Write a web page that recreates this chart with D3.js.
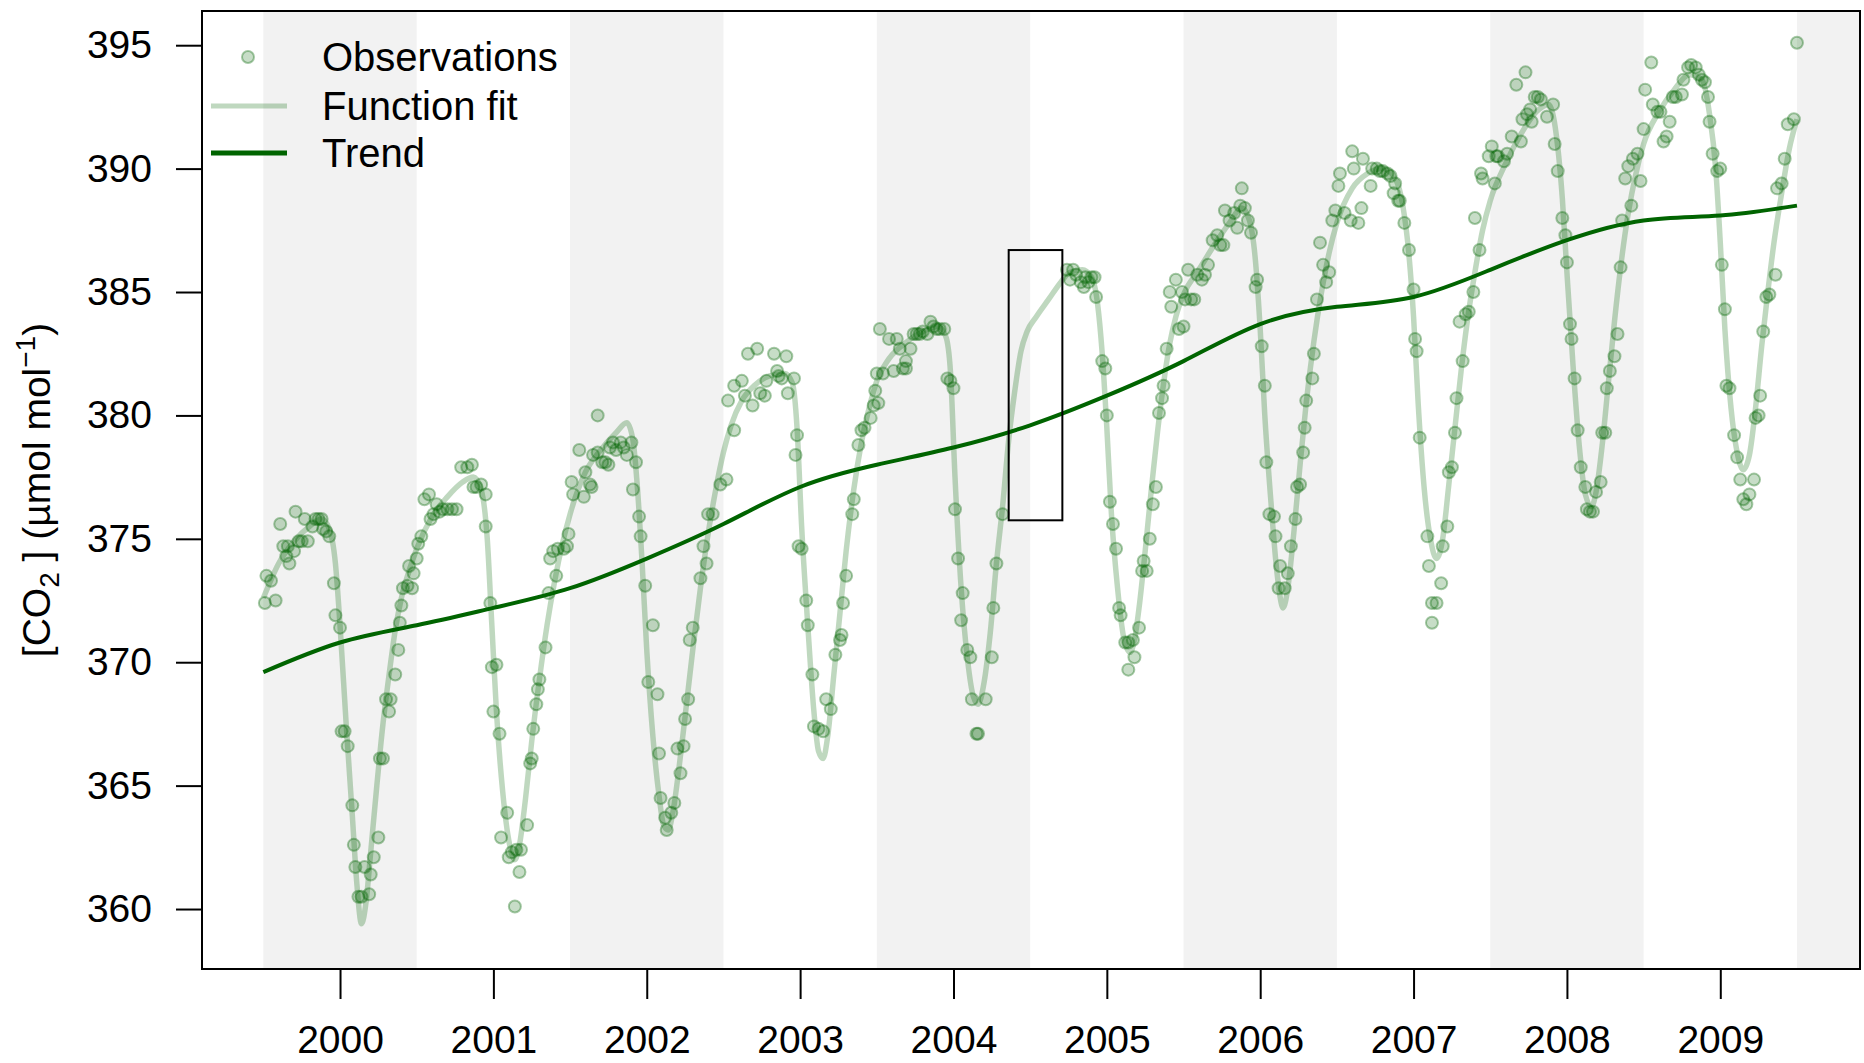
<!DOCTYPE html>
<html>
<head>
<meta charset="utf-8">
<script src="https://cdn.jsdelivr.net/npm/d3@7"></script>
<style>
  body { margin: 0; background: #fff; }
  text { font-family: 'Liberation Sans', Arial, Helvetica, sans-serif; fill: #000; }
</style>
</head>
<body>
<script>
// observations, one small list per season (decimal year, ppm)
const obs2000 = [[1999.51,372.4],[1999.52,373.5],[1999.55,373.3],[1999.58,372.5],[1999.61,375.6],[1999.63,374.7],[1999.65,374.3],[1999.66,374.7],[1999.67,374.0],[1999.70,374.5],[1999.71,376.1],[1999.73,374.9],[1999.75,374.9],[1999.77,375.8],[1999.79,374.9],[1999.82,375.5],[1999.84,375.8],[1999.86,375.8],[1999.88,375.8],[1999.89,375.4],[1999.91,375.3],[1999.93,375.1],[1999.96,373.2],[1999.97,371.9],[2000.00,371.4],[2000.01,367.2],[2000.03,367.2],[2000.05,366.6],[2000.08,364.2],[2000.09,362.6],[2000.10,361.7],[2000.12,360.5],[2000.14,360.5],[2000.16,361.7],[2000.19,360.6],[2000.20,361.4],[2000.22,362.1],[2000.25,362.9],[2000.26,366.1],[2000.28,366.1],[2000.30,368.5],[2000.32,368.0],[2000.33,368.5],[2000.36,369.5],[2000.38,370.5],[2000.39,371.6],[2000.40,372.3],[2000.41,373.0],[2000.44,373.1],[2000.45,373.9],[2000.47,373.0],[2000.48,373.6]]
const obs2001 = [[2000.50,374.2],[2000.51,374.8],[2000.53,375.1],[2000.55,376.6],[2000.58,376.8],[2000.59,375.8],[2000.61,376.0],[2000.63,376.4],[2000.65,376.1],[2000.67,376.2],[2000.70,376.2],[2000.73,376.2],[2000.76,376.2],[2000.79,377.9],[2000.83,377.9],[2000.86,378.0],[2000.87,377.1],[2000.89,377.1],[2000.92,377.2],[2000.95,376.8],[2000.95,375.5],[2000.98,372.4],[2000.99,369.8],[2001.00,368.0],[2001.02,369.9],[2001.04,367.1],[2001.05,362.9],[2001.09,363.9],[2001.10,362.1],[2001.12,362.3],[2001.14,360.1],[2001.15,362.4],[2001.17,361.5],[2001.18,362.4],[2001.22,363.4],[2001.24,365.9],[2001.25,366.1],[2001.26,367.3],[2001.28,368.3],[2001.29,368.9],[2001.30,369.3],[2001.34,370.6],[2001.36,372.8],[2001.37,374.2],[2001.39,374.5],[2001.41,373.5],[2001.42,374.6],[2001.46,374.6],[2001.48,374.7],[2001.49,375.2]]
const obs2002 = [[2001.51,377.3],[2001.52,376.8],[2001.56,378.6],[2001.59,376.7],[2001.60,377.7],[2001.63,377.2],[2001.64,377.1],[2001.65,378.4],[2001.68,380.0],[2001.68,378.5],[2001.71,378.1],[2001.73,378.1],[2001.75,378.0],[2001.76,378.7],[2001.78,378.9],[2001.80,378.6],[2001.83,378.9],[2001.85,378.7],[2001.87,378.4],[2001.90,378.9],[2001.91,377.0],[2001.93,378.1],[2001.95,375.9],[2001.96,375.1],[2001.99,373.1],[2002.01,369.2],[2002.04,371.5],[2002.07,368.7],[2002.08,366.3],[2002.09,364.5],[2002.12,363.7],[2002.13,363.2],[2002.16,363.9],[2002.18,364.3],[2002.20,366.5],[2002.22,365.5],[2002.24,366.6],[2002.25,367.7],[2002.27,368.5],[2002.28,370.9],[2002.30,371.4],[2002.35,373.4],[2002.37,374.7],[2002.39,374.0],[2002.40,376.0],[2002.43,376.0],[2002.48,377.2]]
const obs2003 = [[2002.52,377.4],[2002.53,380.6],[2002.57,379.4],[2002.57,381.2],[2002.62,381.4],[2002.64,380.8],[2002.66,382.5],[2002.69,380.4],[2002.72,382.7],[2002.74,380.9],[2002.77,380.8],[2002.78,381.4],[2002.83,382.5],[2002.85,381.8],[2002.86,381.6],[2002.88,381.5],[2002.91,382.4],[2002.92,380.9],[2002.96,381.5],[2002.97,378.4],[2002.98,379.2],[2002.99,374.7],[2003.01,374.6],[2003.04,372.5],[2003.05,371.5],[2003.08,369.5],[2003.09,367.4],[2003.12,367.3],[2003.15,367.2],[2003.17,368.5],[2003.20,368.1],[2003.23,370.3],[2003.26,370.9],[2003.27,371.1],[2003.28,372.4],[2003.30,373.5],[2003.34,376.0],[2003.35,376.6],[2003.38,378.8],[2003.40,379.4],[2003.42,379.5],[2003.46,379.9],[2003.48,380.4],[2003.49,381.0]]
const obs2004 = [[2003.50,381.7],[2003.51,380.5],[2003.52,383.5],[2003.54,381.7],[2003.58,383.1],[2003.61,381.8],[2003.63,383.1],[2003.65,382.7],[2003.67,381.9],[2003.69,381.9],[2003.69,382.2],[2003.72,382.7],[2003.74,383.3],[2003.76,383.3],[2003.78,383.3],[2003.80,383.4],[2003.83,383.3],[2003.85,383.8],[2003.87,383.6],[2003.89,383.5],[2003.91,383.5],[2003.94,383.5],[2003.96,381.5],[2003.98,381.4],[2004.00,381.1],[2004.01,376.2],[2004.03,374.2],[2004.05,371.7],[2004.06,372.8],[2004.09,370.5],[2004.11,370.2],[2004.12,368.5],[2004.15,367.1],[2004.16,367.1],[2004.21,368.5],[2004.25,370.2],[2004.26,372.2],[2004.28,374.0],[2004.32,376.0]]
const obs2005 = [[2004.74,385.9],[2004.76,385.5],[2004.78,385.9],[2004.80,385.7],[2004.83,385.4],[2004.85,385.2],[2004.86,385.6],[2004.88,385.4],[2004.90,385.6],[2004.92,385.6],[2004.93,384.8],[2004.97,382.2],[2004.99,381.9],[2005.00,380.0],[2005.02,376.5],[2005.04,375.6],[2005.06,374.6],[2005.08,372.2],[2005.09,371.9],[2005.12,370.8],[2005.14,370.8],[2005.14,369.7],[2005.17,370.9],[2005.18,370.2],[2005.21,371.4],[2005.23,373.7],[2005.24,374.1],[2005.26,373.7],[2005.28,375.0],[2005.30,376.4],[2005.32,377.1],[2005.34,380.1],[2005.36,380.7],[2005.37,381.2],[2005.39,382.7],[2005.41,385.0],[2005.42,384.4],[2005.45,385.5],[2005.47,383.5],[2005.49,385.0]]
const obs2006 = [[2005.50,383.6],[2005.51,384.7],[2005.53,385.9],[2005.55,384.7],[2005.57,384.7],[2005.59,385.7],[2005.62,385.5],[2005.64,385.7],[2005.66,386.1],[2005.69,387.1],[2005.72,387.3],[2005.74,386.9],[2005.76,386.9],[2005.77,388.3],[2005.80,387.9],[2005.83,388.2],[2005.85,387.6],[2005.87,388.5],[2005.88,389.2],[2005.90,388.4],[2005.92,387.9],[2005.94,387.4],[2005.97,385.2],[2005.98,385.5],[2006.01,382.8],[2006.03,381.2],[2006.04,378.1],[2006.06,376.0],[2006.09,375.9],[2006.10,375.1],[2006.12,373.0],[2006.13,373.9],[2006.16,373.0],[2006.18,373.6],[2006.20,374.7],[2006.23,375.8],[2006.24,377.1],[2006.26,377.2],[2006.28,378.5],[2006.29,379.5],[2006.30,380.6],[2006.34,381.5],[2006.35,382.5],[2006.37,384.7],[2006.39,387.0],[2006.41,386.1],[2006.43,385.4],[2006.45,385.8],[2006.47,387.9],[2006.49,388.3]]
const obs2007 = [[2006.51,389.3],[2006.52,389.8],[2006.55,388.2],[2006.59,387.9],[2006.60,390.7],[2006.61,390.0],[2006.64,387.8],[2006.66,388.4],[2006.67,390.4],[2006.72,389.3],[2006.73,390.0],[2006.76,390.0],[2006.78,389.9],[2006.80,389.9],[2006.83,389.8],[2006.85,389.7],[2006.87,389.0],[2006.88,389.4],[2006.90,388.7],[2006.91,388.7],[2006.94,387.8],[2006.97,386.7],[2007.00,385.1],[2007.01,383.1],[2007.02,382.6],[2007.04,379.1],[2007.09,375.1],[2007.10,373.9],[2007.12,372.4],[2007.12,371.6],[2007.15,372.4],[2007.18,373.2],[2007.19,374.7],[2007.22,375.5],[2007.23,377.7],[2007.25,377.9],[2007.27,379.3],[2007.28,380.7],[2007.30,383.8],[2007.32,382.2],[2007.34,384.1],[2007.36,384.2],[2007.39,385.0],[2007.40,388.0],[2007.43,386.7],[2007.44,389.8],[2007.45,389.6],[2007.49,390.5]]
const obs2008 = [[2007.51,390.9],[2007.53,389.4],[2007.54,390.5],[2007.55,390.5],[2007.59,390.3],[2007.61,390.6],[2007.64,391.3],[2007.67,393.4],[2007.70,391.1],[2007.71,392.0],[2007.73,393.9],[2007.74,392.2],[2007.76,392.4],[2007.77,391.9],[2007.79,392.9],[2007.81,392.9],[2007.83,392.8],[2007.87,392.1],[2007.91,392.6],[2007.92,391.0],[2007.94,389.9],[2007.97,388.0],[2007.99,387.3],[2008.00,386.2],[2008.02,383.7],[2008.03,383.1],[2008.05,381.5],[2008.07,379.4],[2008.09,377.9],[2008.12,377.1],[2008.13,376.2],[2008.15,376.1],[2008.17,376.1],[2008.19,376.9],[2008.22,377.3],[2008.23,379.3],[2008.25,379.3],[2008.26,381.1],[2008.28,381.8],[2008.31,382.4],[2008.33,383.3],[2008.35,386.0],[2008.36,387.9],[2008.38,389.6],[2008.40,390.1],[2008.42,388.5],[2008.43,390.4],[2008.46,390.6],[2008.48,389.5]]
const obs2009 = [[2008.50,391.6],[2008.51,393.2],[2008.55,394.3],[2008.56,392.6],[2008.59,392.3],[2008.61,392.3],[2008.63,391.1],[2008.65,391.3],[2008.67,391.9],[2008.69,392.9],[2008.71,392.9],[2008.75,393.0],[2008.76,393.6],[2008.79,394.1],[2008.81,394.2],[2008.84,394.1],[2008.86,393.8],[2008.88,393.6],[2008.90,393.5],[2008.92,392.9],[2008.93,391.9],[2008.95,390.6],[2008.98,389.9],[2009.00,390.0],[2009.01,386.1],[2009.03,384.3],[2009.04,381.2],[2009.06,381.1],[2009.09,379.2],[2009.11,378.3],[2009.13,377.4],[2009.15,376.6],[2009.17,376.4],[2009.19,376.8],[2009.22,377.4],[2009.23,379.9],[2009.25,380.0],[2009.26,380.8],[2009.28,383.4],[2009.30,384.8],[2009.32,384.9],[2009.36,385.7],[2009.37,389.2],[2009.40,389.4],[2009.42,390.4],[2009.44,391.8],[2009.48,392.0],[2009.50,395.1]]

// fitted seasonal function
const fitCurve = [[1999.50,372.6],[1999.60,374.0],[1999.70,374.9],[1999.80,375.5],[1999.88,375.8],[1999.93,375.4],[1999.97,374.0],[2000.00,371.5],[2000.04,367.5],[2000.08,363.8],[2000.11,361.0],[2000.14,359.4],[2000.17,360.3],[2000.20,362.3],[2000.24,365.0],[2000.28,367.5],[2000.32,369.5],[2000.36,371.3],[2000.40,372.6],[2000.45,373.7],[2000.50,374.6],[2000.60,375.9],[2000.70,376.7],[2000.80,377.3],[2000.87,377.5],[2000.92,377.0],[2000.96,375.0],[2000.99,371.5],[2001.02,368.0],[2001.06,364.8],[2001.10,362.8],[2001.14,362.0],[2001.17,362.6],[2001.21,364.5],[2001.25,366.8],[2001.30,369.3],[2001.35,371.5],[2001.40,373.3],[2001.45,374.8],[2001.50,376.0],[2001.60,377.7],[2001.70,378.6],[2001.80,379.3],[2001.87,379.7],[2001.91,379.0],[2001.94,377.0],[2001.97,374.0],[2002.00,370.5],[2002.04,367.0],[2002.08,364.6],[2002.11,363.4],[2002.14,363.2],[2002.17,363.9],[2002.21,365.7],[2002.25,367.8],[2002.30,370.5],[2002.35,373.0],[2002.40,375.2],[2002.45,377.0],[2002.50,378.5],[2002.55,379.6],[2002.62,380.6],[2002.70,381.2],[2002.80,381.6],[2002.90,381.7],[2002.95,381.3],[2002.98,379.5],[2003.01,375.5],[2003.05,371.5],[2003.09,368.0],[2003.12,366.4],[2003.15,366.1],[2003.18,367.0],[2003.22,369.5],[2003.26,372.0],[2003.30,374.5],[2003.35,377.0],[2003.40,378.9],[2003.45,380.3],[2003.50,381.4],[2003.58,382.3],[2003.70,383.0],[2003.80,383.4],[2003.90,383.6],[2003.95,383.2],[2003.98,381.8],[2004.01,377.5],[2004.05,373.0],[2004.09,370.2],[2004.13,368.6],[2004.16,368.3],[2004.20,369.2],[2004.24,371.2],[2004.28,374.0],[2004.32,376.3],[2004.36,379.0],[2004.40,381.0],[2004.44,382.6],[2004.48,383.4],[2004.54,384.0],[2004.62,384.7],[2004.70,385.4],[2004.76,385.8],[2004.84,385.9],[2004.90,385.6],[2004.94,384.5],[2004.97,382.5],[2005.00,379.5],[2005.03,376.0],[2005.07,373.0],[2005.11,371.0],[2005.15,370.4],[2005.18,370.9],[2005.21,372.2],[2005.25,374.5],[2005.29,377.0],[2005.33,379.3],[2005.37,381.3],[2005.41,382.9],[2005.45,384.0],[2005.50,384.9],[2005.60,385.9],[2005.70,386.9],[2005.80,387.8],[2005.88,388.4],[2005.93,387.9],[2005.97,386.2],[2006.00,383.5],[2006.03,380.0],[2006.07,376.5],[2006.11,373.6],[2006.15,372.2],[2006.18,373.0],[2006.22,375.3],[2006.26,378.0],[2006.30,380.5],[2006.35,383.0],[2006.40,385.0],[2006.45,386.6],[2006.50,387.8],[2006.60,389.2],[2006.70,389.8],[2006.80,390.0],[2006.88,389.6],[2006.93,388.5],[2006.97,386.5],[2007.00,384.0],[2007.03,380.5],[2007.07,377.0],[2007.11,375.0],[2007.15,374.2],[2007.19,375.0],[2007.23,377.2],[2007.27,379.5],[2007.31,381.8],[2007.35,383.8],[2007.40,385.8],[2007.45,387.5],[2007.50,388.7],[2007.60,390.2],[2007.70,391.4],[2007.80,392.3],[2007.88,392.6],[2007.93,391.4],[2007.97,388.8],[2008.00,385.8],[2008.04,382.0],[2008.08,378.8],[2008.12,376.8],[2008.16,376.3],[2008.19,376.9],[2008.23,378.8],[2008.27,381.3],[2008.31,383.8],[2008.35,386.0],[2008.40,388.2],[2008.45,389.8],[2008.50,391.0],[2008.60,392.3],[2008.70,393.2],[2008.80,393.8],[2008.88,393.6],[2008.93,392.2],[2008.97,390.0],[2009.00,387.0],[2009.03,383.5],[2009.07,380.3],[2009.11,378.5],[2009.15,377.8],[2009.19,378.4],[2009.23,380.3],[2009.27,382.8],[2009.31,385.0],[2009.35,387.0],[2009.40,389.0],[2009.45,390.8],[2009.50,392.0]]

// long-term trend
const trendYear = [1999.5, 2000, 2000.5, 2001, 2001.5, 2002, 2002.5, 2003, 2003.5, 2004, 2004.5, 2005, 2005.5, 2006, 2006.5, 2007, 2007.5, 2008, 2008.5, 2009, 2009.5]
const trendValue = [369.6, 370.8, 371.5, 372.2, 373.0, 374.2, 375.6, 377.1, 378.0, 378.7, 379.6, 380.8, 382.2, 383.7, 384.4, 384.8, 385.9, 387.1, 387.9, 388.1, 388.5]

// shaded seasons (start year, one year wide)
const bandStart = [1999.5, 2001.5, 2003.5, 2005.5, 2007.5, 2009.5]
// data gap box: [x0, x1, y0, y1]
const gapBox = [2004.36, 2004.71, 375.75, 386.7]

const xTicks = [2000, 2001, 2002, 2003, 2004, 2005, 2006, 2007, 2008, 2009]
const yTicks = [360, 365, 370, 375, 380, 385, 390, 395]

const legendLabels = ['Observations', 'Function fit', 'Trend']

const width = 1864
const height = 1063
const margin = {left: 202, right: 4, top: 11, bottom: 94}
const innerW = width - margin.left - margin.right
const innerH = height - margin.top - margin.bottom

const green = '#006400'
const fitColor = 'rgba(0,100,0,0.25)'
const ptFill = 'rgba(0,100,0,0.22)'
const ptStroke = 'rgba(0,100,0,0.35)'

const x = d3.scaleLinear().domain([1999.1, 2009.911]).range([0, innerW])
const y = d3.scaleLinear().domain([357.57, 396.386]).range([innerH, 0])

const svg = d3.select('body').append('svg').attr('width', width).attr('height', height)
const chartGroup = svg.append('g').attr('transform', 'translate(' + margin.left + ',' + margin.top + ')')

chartGroup.append('clipPath').attr('id', 'plotclip')
  .append('rect').attr('width', innerW).attr('height', innerH)

const plot = chartGroup.append('g').attr('clip-path', 'url(#plotclip)')

plot.selectAll('rect.band')
  .data(bandStart)
  .enter().append('rect')
    .attr('class', 'band')
    .attr('x', d => x(d))
    .attr('y', 0)
    .attr('width', d => x(d + 1) - x(d))
    .attr('height', innerH)
    .attr('fill', '#f2f2f2')

const line = d3.line().x(d => x(d[0])).y(d => y(d[1])).curve(d3.curveMonotoneX)

plot.append('path')
  .datum(fitCurve)
  .attr('d', line)
  .attr('fill', 'none')
  .attr('stroke', fitColor)
  .attr('stroke-width', 5.5)
  .attr('stroke-linejoin', 'round')

const observations = [].concat(obs2000, obs2001, obs2002, obs2003, obs2004, obs2005, obs2006, obs2007, obs2008, obs2009)

plot.selectAll('circle.obs')
  .data(observations)
  .enter().append('circle')
    .attr('class', 'obs')
    .attr('cx', d => x(d[0]))
    .attr('cy', d => y(d[1]))
    .attr('r', 6)
    .attr('fill', ptFill)
    .attr('stroke', ptStroke)
    .attr('stroke-width', 2)

const trend = trendYear.map((t, i) => [t, trendValue[i]])
plot.append('path')
  .datum(trend)
  .attr('d', d3.line().x(d => x(d[0])).y(d => y(d[1])).curve(d3.curveNatural))
  .attr('fill', 'none')
  .attr('stroke', green)
  .attr('stroke-width', 4)

plot.append('rect')
  .attr('x', x(gapBox[0]))
  .attr('y', y(gapBox[3]))
  .attr('width', x(gapBox[1]) - x(gapBox[0]))
  .attr('height', y(gapBox[2]) - y(gapBox[3]))
  .attr('fill', 'none')
  .attr('stroke', '#000')
  .attr('stroke-width', 2)

// box
chartGroup.append('rect')
  .attr('width', innerW).attr('height', innerH)
  .attr('fill', 'none').attr('stroke', '#000').attr('stroke-width', 2)

// axes
const yAxis = chartGroup.append('g')
  .call(d3.axisLeft(y).tickValues(yTicks).tickSize(26).tickPadding(24).tickFormat(d3.format('d')))
const xAxis = chartGroup.append('g')
  .attr('transform', 'translate(0,' + innerH + ')')
  .call(d3.axisBottom(x).tickValues(xTicks).tickSize(30).tickPadding(26).tickFormat(d3.format('d')))

;[yAxis, xAxis].forEach(a => {
  a.select('.domain').remove()
  a.selectAll('.tick line').attr('stroke', '#000').attr('stroke-width', 2)
  a.selectAll('.tick text').attr('font-size', 39).attr('font-family', null)
})

// y label
const ylab = svg.append('text')
  .attr('transform', 'translate(50,' + 490 + ') rotate(-90)')
  .attr('text-anchor', 'middle')
  .attr('font-size', 39)
ylab.append('tspan').text('[CO')
ylab.append('tspan').attr('font-size', 28).attr('dy', 9).text('2')
ylab.append('tspan').attr('dy', -9).text(' ] (\u00b5mol mol')
ylab.append('tspan').attr('font-size', 28).attr('dy', -15).text('\u22121')
ylab.append('tspan').attr('dy', 15).text(')')

// legend
const legend = svg.append('g')
const rowY = [57, 106, 153]
legend.append('circle')
  .attr('cx', 248).attr('cy', rowY[0]).attr('r', 6)
  .attr('fill', ptFill).attr('stroke', ptStroke).attr('stroke-width', 2)
legend.append('line')
  .attr('x1', 211).attr('x2', 287).attr('y1', rowY[1]).attr('y2', rowY[1])
  .attr('stroke', fitColor).attr('stroke-width', 5)
legend.append('line')
  .attr('x1', 211).attr('x2', 287).attr('y1', rowY[2]).attr('y2', rowY[2])
  .attr('stroke', green).attr('stroke-width', 5)
legend.selectAll('text.lab')
  .data(legendLabels)
  .enter().append('text')
    .attr('class', 'lab')
    .attr('x', 322)
    .attr('y', (d, i) => rowY[i] + 14)
    .attr('font-size', 40)
    .text(d => d)
</script>
</body>
</html>
